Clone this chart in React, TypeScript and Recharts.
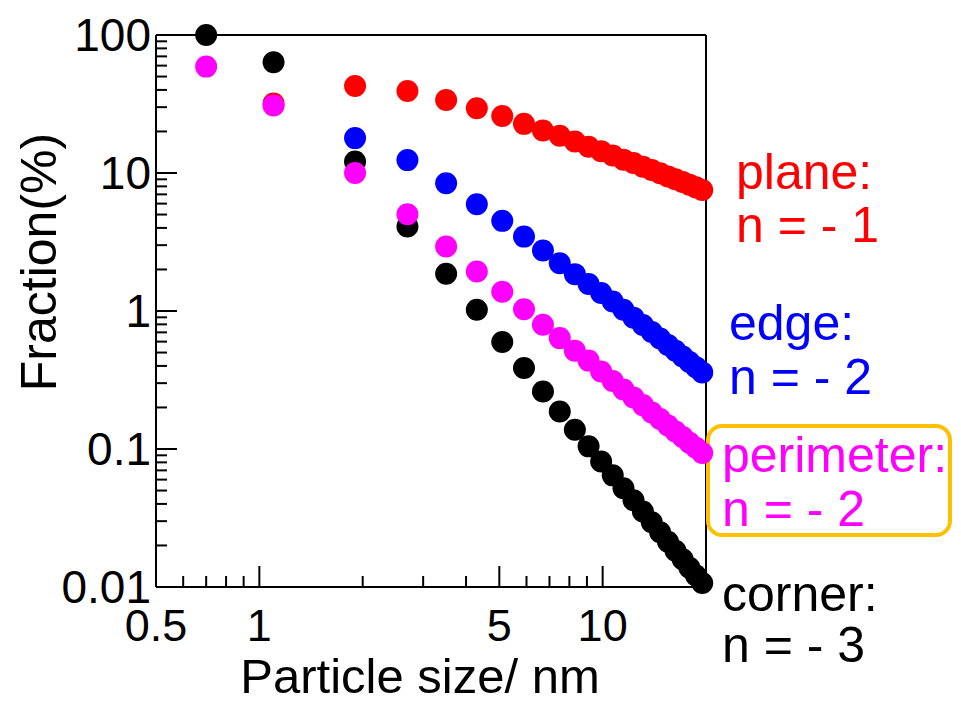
import React from 'react';
import { ScatterChart, Scatter, XAxis, YAxis, CartesianGrid } from 'recharts';

// particle size (nm) for each cluster
const sizes = [0.7, 1.1, 1.9, 2.7, 3.5, 4.3, 5.1, 5.9, 6.7, 7.5, 8.3, 9.1, 9.9, 10.7, 11.5, 12.3, 13.1, 13.9, 14.7, 15.5, 16.3, 17.1, 17.9, 18.7, 19.5];

// fraction (%) of atoms at each site type
const plane = [null, 31.9, 42.7, 39.3, 33.8, 29.5, 25.9, 22.7, 20.3, 18.6, 16.9, 15.5, 14.4, 13.4, 12.5, 11.8, 11.1, 10.5, 9.95, 9.45, 9.0, 8.6, 8.22, 7.87, 7.54];
const edge = [null, null, 17.9, 12.4, 8.44, 5.94, 4.5, 3.46, 2.74, 2.22, 1.85, 1.57, 1.35, 1.17, 1.02, 0.895, 0.792, 0.705, 0.631, 0.568, 0.515, 0.468, 0.427, 0.392, 0.359];
const perimeter = [59, 30.8, 10.0, 5.03, 2.93, 1.93, 1.38, 1.03, 0.794, 0.636, 0.516, 0.437, 0.364, 0.311, 0.27, 0.236, 0.208, 0.184, 0.165, 0.148, 0.134, 0.122, 0.111, 0.102, 0.0935];
const corner = [100, 63.4, 12.1, 4.09, 1.86, 1.02, 0.596, 0.386, 0.261, 0.187, 0.138, 0.1045, 0.0813, 0.0644, 0.0519, 0.0425, 0.0352, 0.0295, 0.0249, 0.0213, 0.0183, 0.0159, 0.0138, 0.0121, 0.0107];

const xTicks = [0.5, 0.6, 0.7, 0.8, 0.9, 1, 2, 3, 4, 5, 6, 7, 8, 9, 10];
const xLabels = [0.5, 1, 5, 10];
const yDecades = [0.01, 0.1, 1, 10];
const yMults = [1, 2, 3, 4, 5, 6, 7, 8, 9];
const yTicks = [...yDecades.flatMap((d) => yMults.map((m) => d * m)), 100];
const yLabels = [0.01, 0.1, 1, 10, 100];

const toPoints = (vals: (number | null)[]) =>
  sizes.map((x, i) => ({ x, y: vals[i] })).filter((p) => p.y != null);

const dot = (color: string) => (p: any) => <circle cx={p.cx} cy={p.cy} r={11} fill={color} />;

const isLabel = (labels: number[], v: number) => labels.some((l) => Math.abs(l - v) / l < 1e-9);

const XTick = ({ x, y, payload }: any) => {
  const major = isLabel(xLabels, payload.value);
  return (
    <g>
      <line x1={x} y1={y} x2={x} y2={y - (major ? 21 : 11)} stroke="#000" strokeWidth={2} />
      {major && (
        <text x={x} y={y + 54} textAnchor="middle" fontSize={45} fill="#000">
          {String(payload.value)}
        </text>
      )}
    </g>
  );
};

const YTick = ({ x, y, payload }: any) => {
  const major = isLabel(yLabels, payload.value);
  return (
    <g>
      <line x1={x} y1={y} x2={x + (major ? 21 : 11)} y2={y} stroke="#000" strokeWidth={2} />
      {major && (
        <text x={x - 5} y={y} dy="0.34em" textAnchor="end" fontSize={46} fill="#000">
          {String(payload.value)}
        </text>
      )}
    </g>
  );
};

export default function App() {
  return (
    <div style={{ fontFamily: '"Liberation Sans", Arial, sans-serif' }}>
      <ScatterChart width={945} height={694} margin={{ top: 27, right: 247, bottom: 0, left: 0 }}>
        <CartesianGrid
          stroke="#000"
          strokeWidth={2}
          horizontalCoordinatesGenerator={({ offset }: any) => [offset.top, offset.top + offset.height]}
          verticalCoordinatesGenerator={({ offset }: any) => [offset.left, offset.left + offset.width]}
        />
        <XAxis
          type="number"
          dataKey="x"
          scale="log"
          domain={[0.5, 20]}
          ticks={xTicks}
          interval={0}
          height={115}
          tickSize={0}
          tickMargin={0}
          tickLine={false}
          axisLine={false}
          tick={(p: any) => <XTick {...p} />}
        />
        <YAxis
          type="number"
          dataKey="y"
          scale="log"
          domain={[0.01, 100]}
          ticks={yTicks}
          interval={0}
          width={148}
          tickSize={0}
          tickMargin={0}
          tickLine={false}
          axisLine={false}
          tick={(p: any) => <YTick {...p} />}
        />
        <Scatter data={toPoints(plane)} shape={dot('#FF0000')} isAnimationActive={false} />
        <Scatter data={toPoints(edge)} shape={dot('#0000FF')} isAnimationActive={false} />
        <Scatter data={toPoints(corner)} shape={dot('#000000')} isAnimationActive={false} />
        <Scatter data={toPoints(perimeter)} shape={dot('#FF00FF')} isAnimationActive={false} />

        <text x={412} y={685} textAnchor="middle" fontSize={49} fill="#000">
          Particle size/ nm
        </text>
        <text x={48} y={254} textAnchor="middle" fontSize={50} fill="#000" transform="rotate(-90 48 254)">
          Fraction(%)
        </text>

        <text x={728} y={181} fontSize={50} fill="#FF0000">plane:</text>
        <text x={728} y={234} fontSize={50} fill="#FF0000">n = - 1</text>
        <text x={721} y={332} fontSize={50} fill="#0000FF">edge:</text>
        <text x={721} y={386} fontSize={50} fill="#0000FF">n = - 2</text>
        <text x={714} y={464} fontSize={50} fill="#FF00FF">perimeter:</text>
        <text x={714} y={518} fontSize={50} fill="#FF00FF">n = - 2</text>
        <rect x={700} y={418} width={242} height={109} rx={14} fill="none" stroke="#FFC000" strokeWidth={4} />
        <text x={714} y={603} fontSize={50} fill="#000">corner:</text>
        <text x={714} y={654} fontSize={50} fill="#000">n = - 3</text>
      </ScatterChart>
    </div>
  );
}
